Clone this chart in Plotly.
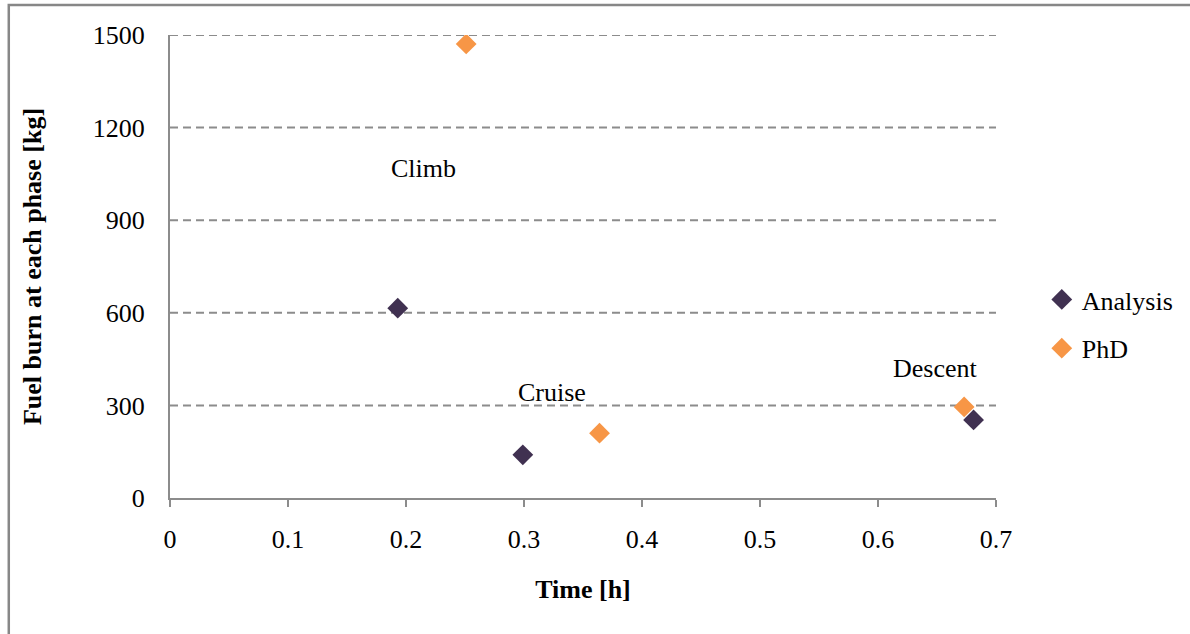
import plotly.graph_objects as go

# Data
analysis_x = [0.193, 0.299, 0.681]
analysis_y = [615, 140, 253]
phd_x = [0.251, 0.364, 0.673]
phd_y = [1471, 210, 295]
phase_labels = ["Climb", "Cruise", "Descent"]
label_x = [0.2145, 0.3234, 0.6485]
label_y = [1066, 343, 421]
x_ticks = [0, 0.1, 0.2, 0.3, 0.4, 0.5, 0.6, 0.7]
x_ticktext = ["0", "0.1", "0.2", "0.3", "0.4", "0.5", "0.6", "0.7"]
y_ticks = [0, 300, 600, 900, 1200, 1500]

W, H = 1190, 634
L, R, T, B = 170, 190, 35, 136
pw, ph = W - L - R, H - T - B

FONT = "Liberation Serif, Times New Roman, serif"
FS = 26

fig = go.Figure()
fig.add_trace(go.Scatter(x=analysis_x, y=analysis_y, mode="markers", name="Analysis",
                         legendgroup="a",
                         marker=dict(symbol="diamond", size=16, color="#403151")))
fig.add_trace(go.Scatter(x=phd_x, y=phd_y, mode="markers", name="PhD",
                         legendgroup="b",
                         marker=dict(symbol="diamond", size=16, color="#F79646")))

for t, x, y in zip(phase_labels, label_x, label_y):
    fig.add_annotation(x=x, y=y, text=t, showarrow=False,
                       font=dict(family=FONT, size=FS, color="black"))

# dashed gridlines
for yv in y_ticks[1:]:
    fig.add_shape(type="line", xref="paper", yref="y", x0=0, x1=1, y0=yv, y1=yv,
                  line=dict(color="#8c8c8c", width=2, dash="8px,5px"), layer="below")

# outer border (top and left visible)
bx0 = (8 - L) / pw
by1 = (H - B - 5) / ph
fig.add_shape(type="rect", xref="paper", yref="paper",
              x0=bx0, x1=(W + 20 - L) / pw, y0=-(B + 20) / ph, y1=by1,
              line=dict(color="#878787", width=2.5))

fig.update_layout(
    width=W, height=H,
    margin=dict(l=L, r=R, t=T, b=B),
    paper_bgcolor="white", plot_bgcolor="white",
    font=dict(family=FONT, size=FS, color="black"),
    showlegend=True,
    legend=dict(x=(1046 - L) / pw, y=(H - B - 276) / ph, xanchor="left", yanchor="top",
                font=dict(family=FONT, size=FS), tracegroupgap=12,
                itemwidth=30, bgcolor="rgba(0,0,0,0)"),
)
fig.update_xaxes(range=[0, 0.7], tickvals=x_ticks, ticktext=x_ticktext,
                 showgrid=False, zeroline=False, showline=True, linecolor="#8c8c8c",
                 linewidth=2, ticks="outside", ticklen=7, tickcolor="#8c8c8c", tickwidth=2,
                 ticklabelstandoff=10,
                 title=dict(text="<b>Time [h]</b>", standoff=27, font=dict(size=FS)))
fig.update_yaxes(range=[0, 1500], tickvals=y_ticks, showgrid=False, zeroline=False,
                 showline=True, linecolor="#8c8c8c", linewidth=2, ticks="",
                 ticklabelstandoff=18,
                 title=dict(text="<b>Fuel burn at each phase [kg]</b>", standoff=44,
                            font=dict(size=FS)))

fig.write_html("out.html")
